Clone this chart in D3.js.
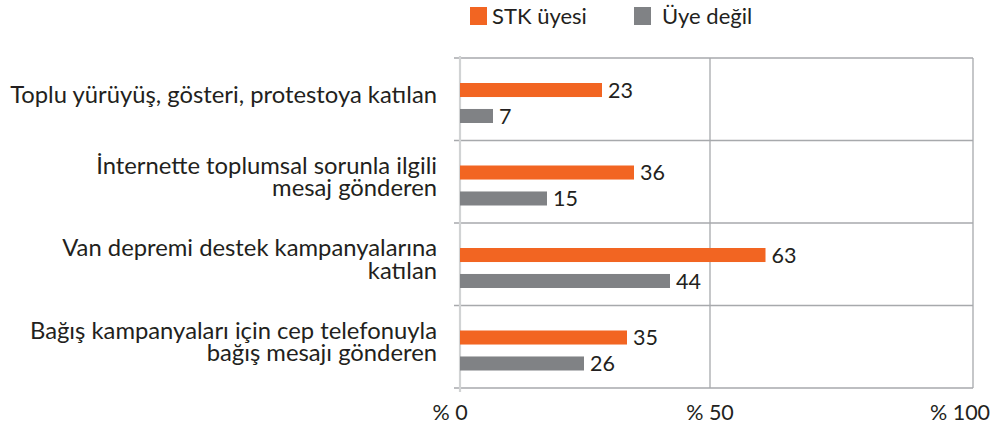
<!DOCTYPE html>
<html lang="tr">
<head>
<meta charset="UTF-8">
<title>STK üyeliği ve katılım</title>
<style>
  body { margin: 0; background: #fff; }
  svg text { font-family: Lato, "Open Sans", sans-serif; fill: #231f20; }
</style>
</head>
<body>
<div class="chart"></div>
<script src="https://d3js.org/d3.v7.min.js"></script>
<script>
// categories, one entry per line of the label
var categories = [
  ["Toplu yürüyüş, gösteri, protestoya katılan"],
  ["İnternette toplumsal sorunla ilgili", "mesaj gönderen"],
  ["Van depremi destek kampanyalarına", "katılan"],
  ["Bağış kampanyaları için cep telefonuyla", "bağış mesajı gönderen"]
]
var seriesNames = ["STK üyesi", "Üye değil"]
var seriesColors = ["#f26522", "#808285"]

// bar lengths as drawn in the picture (%)
var stkBars = [28.4, 34.8, 61.1, 33.4]
var nonBars = [6.6, 17.4, 42, 24.8]
// numbers printed next to the bars
var stkLabels = [23, 36, 63, 35]
var nonLabels = [7, 15, 44, 26]

var xTicks = [0, 50, 100]
var xTickLabels = ["% 0", "% 50", "% 100"]

var width = 999, height = 424
var svg = d3.select(".chart").append("svg")
  .attr("width", width)
  .attr("height", height)

var x = d3.scaleLinear().domain([0, 100]).range([460, 960])
var xEnd = x(102.6)
var y = d3.scaleBand().domain(d3.range(categories.length)).range([58, 388])
var ySub = d3.scaleBand().domain([0, 1]).range([25, 65]).paddingInner(0.46)

var grid = svg.append("g")

// horizontal lines between categories
grid.selectAll("line.h")
  .data(d3.range(categories.length + 1))
  .enter().append("line")
  .attr("class", "h")
  .attr("x1", x(0) - 6)
  .attr("x2", xEnd)
  .attr("y1", function(d) { return d < categories.length ? y(d) : y.range()[1] })
  .attr("y2", function(d) { return d < categories.length ? y(d) : y.range()[1] })
  .attr("stroke", "#a7a9ac")
  .attr("stroke-width", 1.3)

// vertical lines at 50 and at right edge
grid.selectAll("line.v")
  .data([x(50), xEnd])
  .enter().append("line")
  .attr("class", "v")
  .attr("x1", function(d) { return d })
  .attr("x2", function(d) { return d })
  .attr("y1", y.range()[0])
  .attr("y2", y.range()[1])
  .attr("stroke", "#a7a9ac")
  .attr("stroke-width", 1.3)

// zero line
grid.append("line")
  .attr("x1", x(0)).attr("x2", x(0))
  .attr("y1", y.range()[0] - 2).attr("y2", y.range()[1] + 4)
  .attr("stroke", "#d1d3d4")
  .attr("stroke-width", 2.2)

var rows = categories.map(function(c, i) {
  return { i: i, vals: [stkBars[i], nonBars[i]], labels: [stkLabels[i], nonLabels[i]] }
})

var groups = svg.selectAll("g.row")
  .data(rows)
  .enter().append("g")
  .attr("class", "row")
  .attr("transform", function(d) { return "translate(0," + y(d.i) + ")" })

groups.selectAll("rect")
  .data(function(d) { return d.vals })
  .enter().append("rect")
  .attr("x", x(0))
  .attr("y", function(d, j) { return ySub(j) })
  .attr("width", function(d) { return x(d) - x(0) })
  .attr("height", ySub.bandwidth())
  .attr("fill", function(d, j) { return seriesColors[j] })

groups.selectAll("text.val")
  .data(function(d) { return d.vals.map(function(v, j) { return { v: v, label: d.labels[j] } }) })
  .enter().append("text")
  .attr("class", "val")
  .attr("x", function(d) { return x(d.v) + 6 })
  .attr("y", function(d, j) { return ySub(j) + ySub.bandwidth() / 2 })
  .attr("dy", "0.36em")
  .style("font-size", "21.5px")
  .text(function(d) { return d.label })

// category labels, font size fitted so the longest line is as wide as in the picture
var catFont = 21
var probe = svg.append("text").style("font-size", catFont + "px").text(categories[0][0])
catFont = catFont * 427 / probe.node().getComputedTextLength()
probe.remove()

var lineH = 22.5
svg.selectAll("text.cat")
  .data(categories)
  .enter().append("text")
  .attr("class", "cat")
  .attr("text-anchor", "end")
  .style("font-size", catFont + "px")
  .each(function(lines, i) {
    var cy = y(i) + y.bandwidth() / 2 - 5
    d3.select(this).selectAll("tspan")
      .data(lines)
      .enter().append("tspan")
      .attr("x", 437)
      .attr("y", function(l, k) { return cy + (k - (lines.length - 1) / 2) * lineH })
      .attr("dy", "0.35em")
      .text(function(l) { return l })
  })

// x axis labels
svg.selectAll("text.tick")
  .data(xTicks)
  .enter().append("text")
  .attr("class", "tick")
  .attr("x", function(d) { return x(d) })
  .attr("dx", function(d, i) { return i === 0 ? -10 : 0 })
  .attr("y", 420)
  .attr("text-anchor", "middle")
  .style("font-size", "21.5px")
  .text(function(d, i) { return xTickLabels[i] })

// legend
var legend = svg.selectAll("g.legend")
  .data(seriesNames)
  .enter().append("g")
  .attr("class", "legend")
  .attr("transform", function(d, i) { return "translate(" + [470, 634][i] + ",7)" })

legend.append("rect")
  .attr("width", 17).attr("height", 18)
  .attr("fill", function(d, i) { return seriesColors[i] })

legend.append("text")
  .attr("x", function(d, i) { return [22, 28][i] })
  .attr("y", 17)
  .style("font-size", "22px")
  .text(function(d) { return d })
</script>
</body>
</html>
